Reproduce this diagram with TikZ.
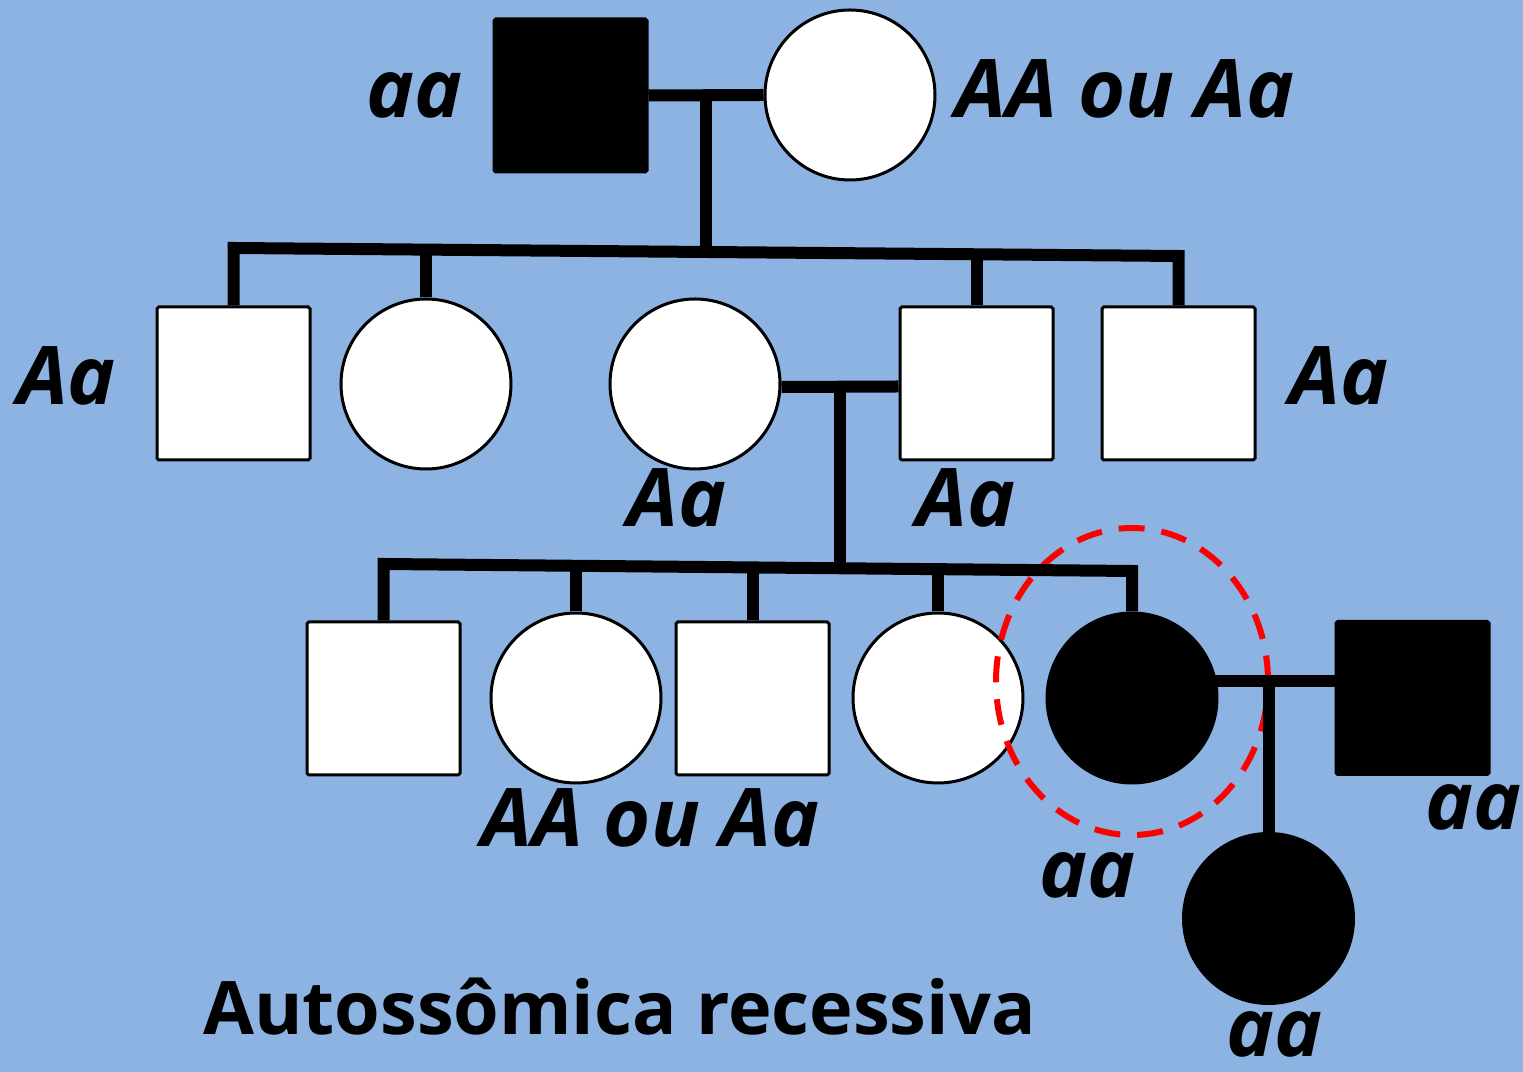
\documentclass[tikz,border=0pt]{standalone}
\usepackage{fontspec}
\setmainfont{Open Sans}
\usepackage{xcolor}
\definecolor{skyback}{HTML}{8DB3E2}
\definecolor{ringred}{HTML}{FF0000}

\begin{document}
\begin{tikzpicture}[
  male/.style={draw, line width=0.03cm, fill=white, minimum size=1.53cm, inner sep=0pt, rounded corners=0.5pt},
  female/.style={draw, circle, line width=0.03cm, fill=white, minimum size=1.70cm, inner sep=0pt},
  sick/.style={fill=black},
  gen/.style={font=\fontsize{23}{26}\selectfont\bfseries\itshape, anchor=base, inner sep=0pt},
  lnk/.style={line width=0.12cm},
  ring/.style={draw=ringred, line width=0.06cm, dash pattern=on 0.26cm off 0.17cm}
]
  \fill[skyback] (0,0) rectangle (15.23,-10.72);

  \node[male, sick] (p1) at (5.705,-0.955) {};
  \node[female]     (p2) at (8.50,-0.95) {};

  \node[male]   (s1) at (2.335,-3.835) {};
  \node[female] (s2) at (4.26,-3.84) {};
  \node[female] (s3) at (6.95,-3.84) {};
  \node[male]   (s4) at (9.765,-3.835) {};
  \node[male]   (s5) at (11.785,-3.835) {};

  \node[male]         (t1) at (3.835,-6.985) {};
  \node[female]       (t2) at (5.76,-6.98) {};
  \node[male]         (t3) at (7.525,-6.985) {};
  \node[female]       (t4) at (9.38,-6.98) {};
  \node[female, sick] (t5) at (11.32,-6.98) {};
  \node[male, sick]   (sp) at (14.125,-6.98) {};
  \node[female, sick] (kid) at (12.685,-9.185) {};

  \draw[ring] ([yshift=0.165cm]t5.center) ellipse [x radius=1.36cm, y radius=1.535cm];

  \coordinate (d1) at (7.06,-0.95);
  \coordinate (b1l) at (2.335,-2.48);
  \coordinate (b1r) at (11.785,-2.56);
  \coordinate (d2) at (8.40,-3.87);
  \coordinate (b2l) at (3.835,-5.64);
  \coordinate (b2r) at (11.32,-5.71);
  \coordinate (d3) at (12.685,-6.815);

  \draw[lnk] (p1.east) -- (p2.west);
  \draw[lnk] (d1) -- (d1 |- b1l);
  \draw[lnk] (s1.north) -- (b1l) -- (b1r) -- (s5.north);
  \draw[lnk] (s2.north) -- (s2.north |- b1l);
  \draw[lnk] (s4.north) -- (s4.north |- b1r);

  \draw[lnk] ([yshift=-0.03cm]s3.east) -- ([yshift=-0.03cm]s4.west);
  \draw[lnk] (d2) -- (d2 |- b2l);
  \draw[lnk] (t1.north) -- (b2l) -- (b2r) -- (t5.north);
  \draw[lnk] (t2.north) -- (t2.north |- b2l);
  \draw[lnk] (t3.north) -- (t3.north |- b2l);
  \draw[lnk] (t4.north) -- (t4.north |- b2r);

  \draw[lnk] ([yshift=0.165cm]t5.center) -- ([yshift=0.165cm]sp.west);
  \draw[lnk] (d3) -- (kid.north);

  \node[gen] (g1) at (4.15,-1.18) {aa};
  \node[gen] (g2) at (11.25,-1.18) {AA ou Aa};
  \node[gen] (g3) at (0.665,-4.05) {Aa};
  \node[gen] (g4) at (13.39,-4.05) {Aa};
  \node[gen] (g5) at (6.77,-5.27) {Aa};
  \node[gen] (g6) at (9.66,-5.27) {Aa};
  \node[gen] (g7) at (6.505,-8.47) {AA ou Aa};
  \node[gen] (g8) at (10.875,-8.98) {aa};
  \node[gen] (g9) at (14.74,-8.30) {aa};
  \node[gen] (g10) at (12.75,-10.57) {aa};

  \node[font=\fontsize{21}{25}\selectfont\bfseries, anchor=base, inner sep=0pt] (title) at (6.195,-10.35) {Autossômica recessiva};
\end{tikzpicture}
\end{document}
